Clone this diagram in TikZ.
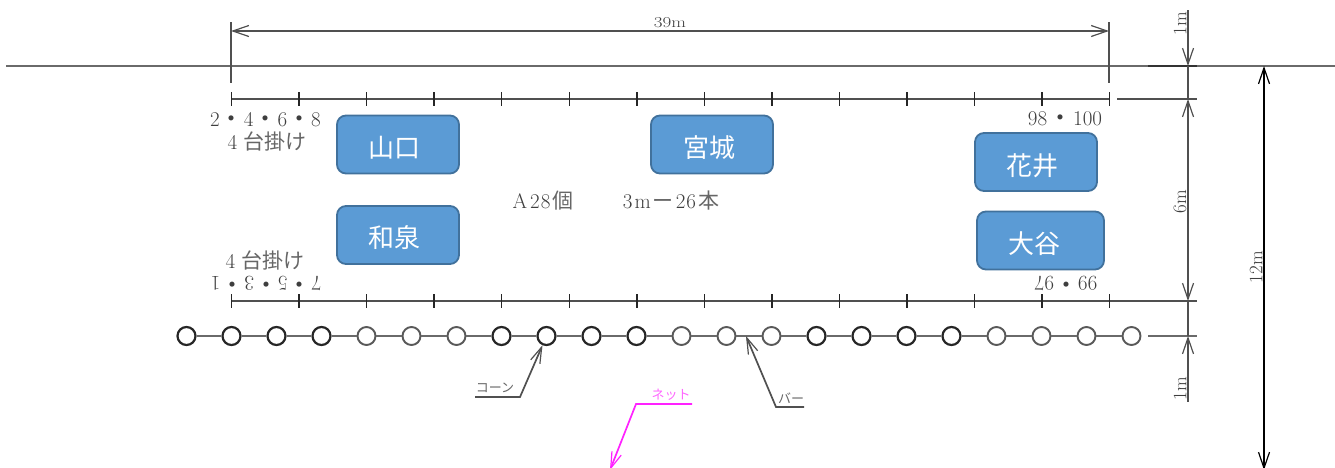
\documentclass[tikz,border=0pt]{standalone}
\usepackage{fontspec}
\newfontfamily\cjk{Noto Sans CJK JP}
\usetikzlibrary{arrows.meta}
\definecolor{boxfill}{HTML}{5B9BD5}
\definecolor{boxedge}{HTML}{41719C}
\definecolor{ink}{HTML}{505050}
\definecolor{lab}{HTML}{3E3E3E}
\definecolor{kanji}{HTML}{666666}
\definecolor{netpink}{HTML}{FF22FF}
\definecolor{netlab}{HTML}{FF66FF}
\newcommand{\pdot}{{\cjk\fontsize{24}{24}\selectfont\raisebox{-1.5pt}{・}}}
\newcommand{\kan}[1]{{\color{kanji}\cjk\fontsize{21}{22}\selectfont #1}}
\tikzset{
  person/.style={draw=boxedge,line width=1.8pt,fill=boxfill,rounded corners=9pt,text=white,inner sep=0pt,font=\cjk\fontsize{26}{28}\selectfont},
  lbl/.style={text=lab,inner sep=0pt,font=\fontsize{21}{23}\selectfont},
  small/.style={text=lab,inner sep=0pt,font=\fontsize{19}{20}\selectfont},
  tiny/.style={text=kanji,inner sep=0pt,font=\cjk\fontsize{13}{14}\selectfont},
  rule/.style={draw=ink,line width=1.9pt},
  thin/.style={draw=black!85,line width=1.5pt},
  barb/.tip={Straight Barb[length=16pt,width=11pt,line width=1.2pt]},
  dim/.style={draw=ink,line width=1.6pt},
  conedark/.style={draw=black!85,line width=2.2pt,fill=white,circle,minimum size=18pt,inner sep=0pt},
  conelight/.style={draw=black!65,line width=1.9pt,fill=white,circle,minimum size=18pt,inner sep=0pt},
  leader/.style={draw=ink,line width=1.7pt,-{Straight Barb[length=16pt,width=10pt,line width=1.2pt]}}
}
\begin{document}
\begin{tikzpicture}[x=1pt,y=-1pt]
\useasboundingbox (0,0) rectangle (1335,467);
\clip (0,0) rectangle (1335,467);
% free ends
\coordinate (gl) at (6,66); \coordinate (gr) at (1335,66);
\coordinate (gs) at (1148,66); \coordinate (ge) at (1197,66);
\coordinate (tl) at (231,99); \coordinate (tr) at (1109,99);
\coordinate (ts) at (1117,99); \coordinate (te) at (1197,99);
\coordinate (bl) at (231,301); \coordinate (be) at (1197,301);
\coordinate (cs) at (1148,336); \coordinate (ce) at (1197,336);
\coordinate (da) at (231,31); \coordinate (db) at (1109,31);
\coordinate (va1) at (231,22); \coordinate (va2) at (231,83);
\coordinate (vb1) at (1109,22); \coordinate (vb2) at (1109,83);
\coordinate (m1) at (1188,10); \coordinate (m2) at (1188,66);
\coordinate (m3) at (1188,99); \coordinate (m4) at (1188,301);
\coordinate (m5) at (1188,336); \coordinate (m6) at (1188,402);
\coordinate (t1) at (1264,66); \coordinate (t2) at (1264,470);
% ground and rails
\draw[rule,draw=ink!85] (gl) -- (gr);
\draw[rule,draw=black!80] (gs) -- (ge);
\draw[rule] (tl) -- (tr);
\draw[rule] (ts) -- (te);
\draw[rule] (bl) -- (be);
\foreach \i in {0,...,13}{
  \draw[thin] ({231.5+67.55*\i},92) -- ({231.5+67.55*\i},106);
  \draw[thin] ({231.5+67.55*\i},294) -- ({231.5+67.55*\i},308);
}
% cones
\foreach \i/\s in {0/conedark,1/conedark,2/conedark,3/conedark,4/conelight,5/conelight,6/conelight,7/conedark,8/conedark,9/conedark,10/conedark,11/conelight,12/conelight,13/conelight,14/conedark,15/conedark,16/conedark,17/conedark,18/conelight,19/conelight,20/conelight,21/conelight}
  \node[\s] (c\i) at ({186.5+45*\i},336) {};
\foreach \i [evaluate=\i as \j using int(\i+1)] in {0,...,20}
  \draw[rule,draw=ink!85] (c\i) -- (c\j);
\draw[rule,draw=ink!85] (cs) -- (ce);
% 39 m dimension
\draw[thin,draw=ink] (va1) -- (va2);
\draw[thin,draw=ink] (vb1) -- (vb2);
\draw[dim,barb-barb] (da) -- (db);
\node[small,yscale=.8] (l39) at (670,23) {39m};
% vertical dimensions
\draw[dim,-barb] (m1) -- (m2);
\draw[dim] (m2) -- (m3);
\draw[dim,line width=1.9pt,barb-barb] (m3) -- (m4);
\draw[dim] (m4) -- (m5);
\draw[dim,barb-] (m5) -- (m6);
\draw[draw=black,line width=1.5pt,barb-barb] (t1) -- (t2);
\node[small,rotate=90] (l1a) at (1180,24) {1m};
\node[small,rotate=90] (l6) at (1180,202) {6m};
\node[small,rotate=90] (l12) at (1256,267) {12m};
\node[small,rotate=90] (l1b) at (1180,389) {1m};
% labels
\node[lbl] (n1) at (265.5,120) {2\pdot 4\pdot 6\pdot 8};
\node[lbl] (n2) at (267,141) {4\kern6pt\kan{台掛け}};
\node[lbl] (n3) at (1065,119) {98\kern1pt\pdot\kern1pt 100};
\node[lbl] (n4) at (265,260) {4\kern6pt\kan{台掛け}};
\node[lbl,rotate=180] (n5) at (266,283) {7\pdot 5\pdot 3\pdot 1};
\node[lbl,rotate=180] (n6) at (1066,283) {99\pdot 97};
\node[lbl] (n7) at (543,201) {A\kern3pt 2\kern1pt 8\kern2pt\kan{個}};
\node[lbl] (n8) at (671,201) {3\kern2pt m\kern2pt\kan{ー}\kern2pt 2\kern1pt 6\kern2pt\kan{本}};
% people
\node[person,minimum width=122pt,minimum height=58pt] (yamaguchi) at (398,144.5) {\kern-8pt\raisebox{-12.5pt}[0pt][0pt]{山口}};
\node[person,minimum width=122pt,minimum height=58pt] (miyagi) at (712,144.5) {\kern-6pt\raisebox{-12.5pt}[0pt][0pt]{宮城}};
\node[person,minimum width=122pt,minimum height=58pt] (izumi) at (398,235) {\kern-8pt\raisebox{-12pt}[0pt][0pt]{和泉}};
\node[person,minimum width=122pt,minimum height=58pt] (hanai) at (1036,162) {\kern-8pt\raisebox{-13pt}[0pt][0pt]{花井}};
\node[person,minimum width=127pt,minimum height=58pt] (otani) at (1040.5,240.5) {\kern-13pt\raisebox{-12.5pt}[0pt][0pt]{大谷}};
% leaders
\node[tiny] (cone) at (495,388) {コーン};
\coordinate (cone0) at (475,397); \coordinate (cone1) at (520,397);
\draw[leader] (cone0) -- (cone1) -- (c8);
\node[tiny] (bar) at (791,398) {バー};
\coordinate (bar0) at (804,407); \coordinate (bar1) at (776,407); \coordinate (bar2) at (746,336);
\draw[leader] (bar0) -- (bar1) -- (bar2);
\node[tiny,text=netlab] (net) at (671,395) {ネット};
\coordinate (net0) at (692,404); \coordinate (net1) at (636,404); \coordinate (net2) at (610,470);
\draw[leader,draw=netpink] (net0) -- (net1) -- (net2);
\end{tikzpicture}
\end{document}
